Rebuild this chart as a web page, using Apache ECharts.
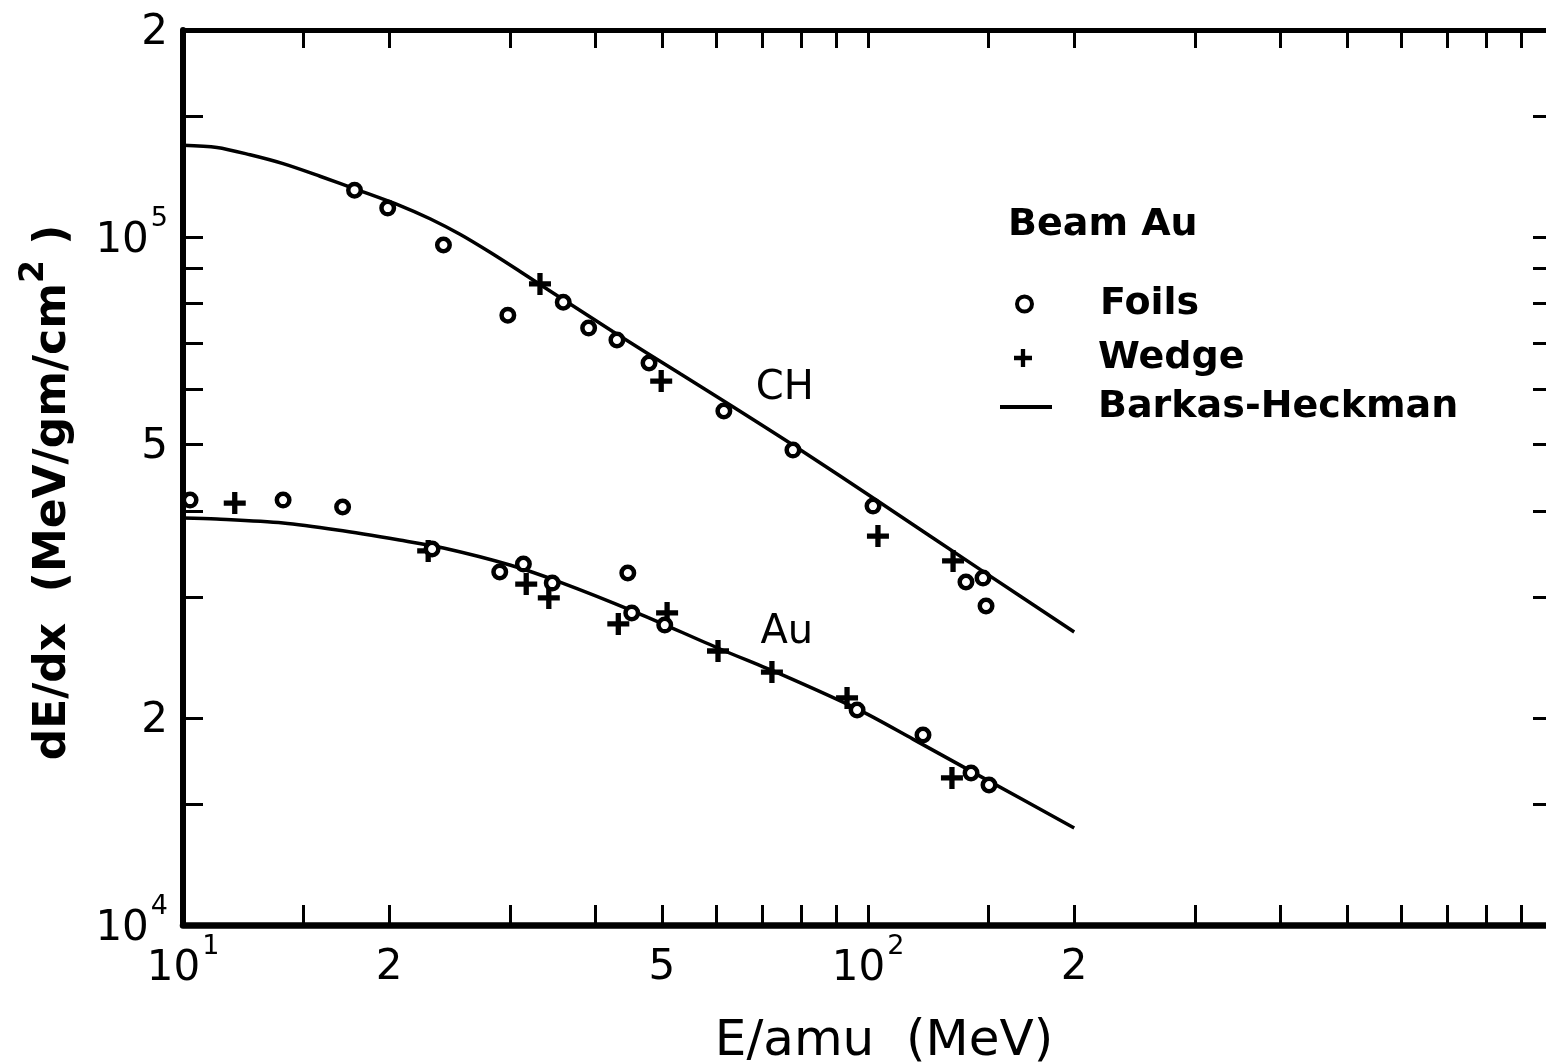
<!DOCTYPE html>
<html><head><meta charset="utf-8">
<script src="https://cdn.jsdelivr.net/npm/echarts@6/dist/echarts.min.js"></script>
<style>html,body{margin:0;padding:0;background:#fff}#c{width:1546px;height:1063px}</style>
</head><body><div id="c"></div>
<script>
// ---- axis extents and ticks (E/amu in MeV, dE/dx in MeV/gm/cm^2) ----
const xMin = 10, xMax = 1000;
const yMin = 1e4, yMax = 2e5;
const xLabelValues = [10, 20, 50, 100, 200];
const xLabelTexts  = ['10^1', '2', '5', '10^2', '2'];
const xTickValues  = [15, 20, 30, 40, 50, 60, 70, 80, 90, 100, 150, 200, 300, 400, 500, 600, 700, 800, 900];
const yLabelValues = [1e4, 2e4, 5e4, 1e5, 2e5];
const yLabelTexts  = ['10^4', '2', '5', '10^5', '2'];
const yTickValues  = [1.5e4, 2e4, 3e4, 4e4, 5e4, 6e4, 7e4, 8e4, 9e4, 1e5, 1.5e5];

// ---- Barkas-Heckman curves ----
const chCurveE = [10, 11.21, 12.53, 14.0, 15.85, 17.95, 20.74, 22.94, 25.37, 28.07, 31.05, 34.34, 42.4, 53.2, 63.5, 78.8, 104.1, 145.7, 200];
const chCurveS = [136000, 134970, 131710, 127860, 122590, 117220, 111150, 106340, 100950, 95040, 89130, 83510, 72890, 63270, 56670, 49410, 41130, 32880, 26660];
const auCurveE = [10, 11.2, 14.0, 16.8, 20.7, 24.0, 30.0, 35.5, 45.4, 60.8, 74.4, 96.4, 116.3, 145.7, 200];
const auCurveS = [39050, 38910, 38400, 37510, 36270, 35320, 33370, 31520, 28600, 25190, 23170, 20610, 18630, 16460, 13840];

// ---- Foils (circles) ----
const chFoilsE = [17.8, 19.9, 24.0, 29.8, 35.9, 39.1, 43.0, 47.9, 61.6, 77.7, 101.7, 139.0, 147.2, 148.7];
const chFoilsS = [117000, 110200, 97400, 77000, 80400, 73750, 70850, 65600, 55870, 49020, 40640, 31520, 31940, 29090];
const auFoilsE = [10.24, 14.0, 17.1, 23.1, 29.0, 31.4, 34.6, 44.6, 45.2, 50.5, 96.4, 120.3, 141.4, 150.2];
const auFoilsS = [41470, 41470, 40520, 35200, 32600, 33470, 31410, 32490, 28420, 27290, 20540, 18890, 16630, 15980];

// ---- Wedge (plus signs) ----
const chWedgeE = [33.2, 49.9, 103.4, 133.1];
const chWedgeS = [85500, 61750, 36760, 33820];
const auWedgeE = [11.9, 22.8, 31.7, 34.2, 43.2, 50.9, 60.4, 72.4, 93.2, 132.6];
const auWedgeS = [41060, 34970, 31300, 29880, 27390, 28420, 25020, 23320, 21380, 16360];

// ---- curve annotations ----
const annoText = ['CH', 'Au'];
const annoE = [75.6, 76.1];
const annoS = [60300, 26600];

const L = Math.log10;
const pts = (xs, ys) => xs.map((v, i) => [L(v), L(ys[i])]);
const FONT = 'DejaVu Sans';
const plusPath = 'path://M-1.2,-5H1.2V-1.2H5V1.2H1.2V5H-1.2V1.2H-5V-1.2H-1.2Z';

function richLabel(t) {
  const p = t.split('^');
  return p.length > 1 ? '{b|' + p[0] + '}{s|' + p[1] + '}' : '{p|' + p[0] + '}';
}
function labelFor(values, texts) {
  return v => {
    const i = values.findIndex(x => Math.abs(L(x) - v) < 1e-6);
    return i < 0 ? '' : richLabel(texts[i]);
  };
}
const base = { fontFamily: FONT, fontSize: 42, color: '#000', verticalAlign: 'bottom' };
const sup = { fontFamily: FONT, fontSize: 27, color: '#000', verticalAlign: 'bottom', padding: [0, 0, 36, 2] };
const xRich = {
  b: Object.assign({ padding: [0, 0, 6, 0] }, base),
  p: Object.assign({ padding: [14, 0, 6, 0] }, base),
  s: sup
};
const yRich = {
  b: Object.assign({ padding: [0, 0, 6, 0] }, base),
  p: Object.assign({ padding: [6, 0, 0, 0] }, base),
  s: sup
};

const circleStyle = { color: '#fff', borderColor: '#000', borderWidth: 4.5, opacity: 1 };
const legendText = { fontFamily: FONT, fontWeight: 'bold', fontSize: 38, color: '#000' };

const chart = echarts.init(document.getElementById('c'), null, { renderer: 'canvas' });
chart.setOption({
  animation: false,
  backgroundColor: '#fff',
  title: {
    text: 'Beam Au', left: 1008, top: 206, padding: 0,
    textStyle: legendText
  },
  legend: [
    {
      data: [{ name: 'Foils', icon: 'circle', itemStyle: { color: '#fff', borderColor: '#000', borderWidth: 4 } }],
      left: 1015, top: 285, itemWidth: 15, itemHeight: 15, selectedMode: false, padding: 0,
      textStyle: Object.assign({ padding: [0, 0, 0, 63] }, legendText)
    },
    {
      data: [{ name: 'Wedge', icon: plusPath, itemStyle: { color: '#000', borderWidth: 0 } }],
      left: 1014, top: 339, itemWidth: 18, itemHeight: 18, selectedMode: false, padding: 0,
      textStyle: Object.assign({ padding: [0, 0, 0, 61] }, legendText)
    },
    {
      data: [{ name: 'Barkas-Heckman', icon: 'rect', itemStyle: { color: '#000', borderWidth: 0 } }],
      left: 1000, top: 388, itemWidth: 52, itemHeight: 4, selectedMode: false, padding: 0,
      textStyle: Object.assign({ padding: [0, 0, 0, 41] }, legendText)
    }
  ],
  grid: { left: 183, top: 30, width: 1370, height: 895, containLabel: false, outerBoundsMode: 'none' },
  xAxis: [
    {
      type: 'value', position: 'bottom', min: L(xMin), max: L(xMax),
      name: 'E/amu  (MeV)', nameLocation: 'middle', nameGap: 92,
      nameTextStyle: { fontFamily: FONT, fontSize: 50, color: '#000', padding: [0, 0, 0, 32] },
      axisLine: { show: true, lineStyle: { color: '#000', width: 6.5 } },
      axisTick: { show: true, inside: true, length: 20, customValues: xTickValues.map(L), lineStyle: { color: '#000', width: 3 } },
      axisLabel: { show: true, margin: 8, customValues: xLabelValues.map(L), formatter: labelFor(xLabelValues, xLabelTexts), rich: xRich, showMinLabel: true, showMaxLabel: true },
      splitLine: { show: false }, minorTick: { show: false }
    },
    {
      type: 'value', position: 'top', min: L(xMin), max: L(xMax),
      axisLine: { show: true, lineStyle: { color: '#000', width: 5 } },
      axisTick: { show: true, inside: true, length: 18, customValues: xTickValues.map(L), lineStyle: { color: '#000', width: 3 } },
      axisLabel: { show: false }, splitLine: { show: false }
    }
  ],
  yAxis: [
    {
      type: 'value', position: 'left', min: L(yMin), max: L(yMax),
      name: '{t|dE/dx  (MeV/gm/cm}{s|2}{t| )}', nameLocation: 'middle', nameGap: 107,
      nameTextStyle: {
        padding: [0, 30, 0, 0],
        rich: {
          t: { fontFamily: FONT, fontWeight: 'bold', fontSize: 44, color: '#000', verticalAlign: 'bottom' },
          s: { fontFamily: FONT, fontWeight: 'bold', fontSize: 33, color: '#000', verticalAlign: 'bottom', padding: [0, 0, 25, 0] }
        }
      },
      axisLine: { show: true, lineStyle: { color: '#000', width: 6 } },
      axisTick: { show: true, inside: true, length: 20, customValues: yTickValues.map(L), lineStyle: { color: '#000', width: 3 } },
      axisLabel: { show: true, margin: 15, customValues: yLabelValues.map(L), formatter: labelFor(yLabelValues, yLabelTexts), rich: yRich, showMinLabel: true, showMaxLabel: true },
      splitLine: { show: false }, minorTick: { show: false }
    },
    {
      type: 'value', position: 'right', min: L(yMin), max: L(yMax),
      axisLine: { show: true, lineStyle: { color: '#000', width: 5 } },
      axisTick: { show: true, inside: true, length: 20, customValues: yTickValues.map(L), lineStyle: { color: '#000', width: 3 } },
      axisLabel: { show: false }, splitLine: { show: false }
    }
  ],
  series: [
    { name: 'Barkas-Heckman', type: 'line', data: pts(chCurveE, chCurveS), smooth: 0.3, symbol: 'none', color: '#000', lineStyle: { color: '#000', width: 3.5 }, z: 2 },
    { name: 'Barkas-Heckman', type: 'line', data: pts(auCurveE, auCurveS), smooth: 0.3, symbol: 'none', color: '#000', lineStyle: { color: '#000', width: 3.5 }, z: 2 },
    { name: 'Wedge', type: 'scatter', data: pts(chWedgeE, chWedgeS), symbol: plusPath, symbolSize: 22, itemStyle: { color: '#000', opacity: 1 }, z: 3 },
    { name: 'Wedge', type: 'scatter', data: pts(auWedgeE, auWedgeS), symbol: plusPath, symbolSize: 22, itemStyle: { color: '#000', opacity: 1 }, z: 3 },
    { name: 'Foils', type: 'scatter', data: pts(chFoilsE, chFoilsS), symbol: 'circle', symbolSize: 12.5, itemStyle: circleStyle, z: 4 },
    { name: 'Foils', type: 'scatter', data: pts(auFoilsE, auFoilsS), symbol: 'circle', symbolSize: 12.5, itemStyle: circleStyle, z: 4 },
    {
      name: 'annotations', type: 'scatter', symbolSize: 1, itemStyle: { color: 'rgba(0,0,0,0)' }, silent: true, z: 5,
      data: annoText.map((t, i) => ({ name: t, value: [L(annoE[i]), L(annoS[i])] })),
      label: { show: true, position: 'inside', formatter: p => p.name, fontFamily: FONT, fontSize: 40, color: '#000', opacity: 1 }
    }
  ]
});
</script>
</body></html>
